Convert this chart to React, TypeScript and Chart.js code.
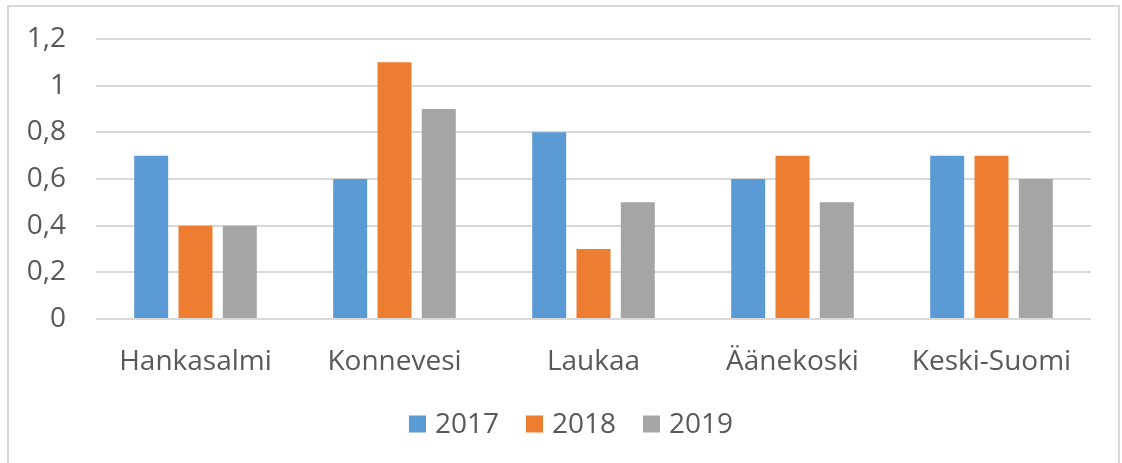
import React, { useEffect, useRef } from "react";
import { Chart, registerables } from "chart.js";

Chart.register(...registerables);

const categories = ["Hankasalmi", "Konnevesi", "Laukaa", "Äänekoski", "Keski-Suomi"];
const seriesNames = ["2017", "2018", "2019"];
const values2017 = [0.7, 0.6, 0.8, 0.6, 0.7];
const values2018 = [0.4, 1.1, 0.3, 0.7, 0.7];
const values2019 = [0.4, 0.9, 0.5, 0.5, 0.6];
const seriesColors = ["#5B9BD5", "#ED7D31", "#A5A5A5"];
const yMin = 0;
const yMax = 1.2;
const yStep = 0.2;

const FONT = "'Open Sans', sans-serif";
const TEXT = "#595959";
const GRID = "#D9D9D9";
const FONT_SIZE = 28;

const borderPlugin = {
  id: "outerBorder",
  beforeDraw(chart: any) {
    const ctx = chart.ctx;
    ctx.save();
    ctx.fillStyle = "#ffffff";
    ctx.fillRect(0, 0, chart.width, chart.height);
    ctx.strokeStyle = GRID;
    ctx.lineWidth = 2;
    ctx.beginPath();
    ctx.moveTo(8, chart.height + 5);
    ctx.lineTo(8, 6);
    ctx.lineTo(1119, 6);
    ctx.lineTo(1119, chart.height + 5);
    ctx.stroke();
    ctx.restore();
  },
};

const legendPlugin = {
  id: "customLegend",
  afterDraw(chart: any) {
    const ctx = chart.ctx;
    const box = 17;
    const boxGap = 9;
    const itemGap = 27;
    const cy = 424;
    const centerX = 571;
    ctx.save();
    ctx.font = `${FONT_SIZE}px ${FONT}`;
    const items = chart.data.datasets.map((d: any) => ({
      label: d.label,
      color: d.backgroundColor,
      w: ctx.measureText(d.label).width,
    }));
    const total =
      items.reduce((s: number, it: any) => s + box + boxGap + it.w, 0) +
      itemGap * (items.length - 1);
    let x = centerX - total / 2;
    ctx.textBaseline = "middle";
    ctx.textAlign = "left";
    for (const it of items) {
      ctx.fillStyle = it.color;
      ctx.fillRect(x, cy - box / 2, box, box);
      x += box + boxGap;
      ctx.fillStyle = TEXT;
      ctx.fillText(it.label, x, cy + 1);
      x += it.w + itemGap;
    }
    ctx.restore();
  },
};

export default function App() {
  const ref = useRef<HTMLCanvasElement | null>(null);

  useEffect(() => {
    if (!ref.current) return;
    const allValues = [values2017, values2018, values2019];
    const chart = new Chart(ref.current, {
      type: "bar",
      data: {
        labels: categories,
        datasets: seriesNames.map((name, i) => ({
          label: name,
          data: allValues[i],
          backgroundColor: seriesColors[i],
          borderWidth: 0,
          categoryPercentage: 0.668,
          barPercentage: 0.767,
        })),
      },
      options: {
        responsive: false,
        animation: false,
        layout: { padding: { left: 0, right: 31, top: 39, bottom: 0 } },
        plugins: {
          legend: { display: false },
          tooltip: { enabled: false },
        },
        scales: {
          x: {
            grid: { display: false },
            border: { display: false },
            ticks: {
              color: TEXT,
              font: { family: FONT, size: FONT_SIZE },
              padding: 18,
              maxRotation: 0,
            },
            afterFit(scale: any) {
              scale.height = 144;
            },
          },
          y: {
            min: yMin,
            max: yMax,
            grid: { color: GRID, lineWidth: 2, drawTicks: false },
            border: { display: false },
            ticks: {
              stepSize: yStep,
              color: TEXT,
              font: { family: FONT, size: FONT_SIZE },
              padding: 30,
              callback: (v: any) => String(Number(Number(v).toFixed(1))).replace(".", ","),
            },
            afterFit(scale: any) {
              scale.width = 96;
              scale.paddingTop = 0;
              scale.paddingBottom = 0;
            },
          },
        },
      },
      plugins: [borderPlugin, legendPlugin],
    });
    return () => chart.destroy();
  }, []);

  return (
    <div style={{ position: "absolute", left: 0, top: 0, width: 1122, height: 463 }}>
      <canvas ref={ref} width={1122} height={463} style={{ display: "block" }} />
    </div>
  );
}
